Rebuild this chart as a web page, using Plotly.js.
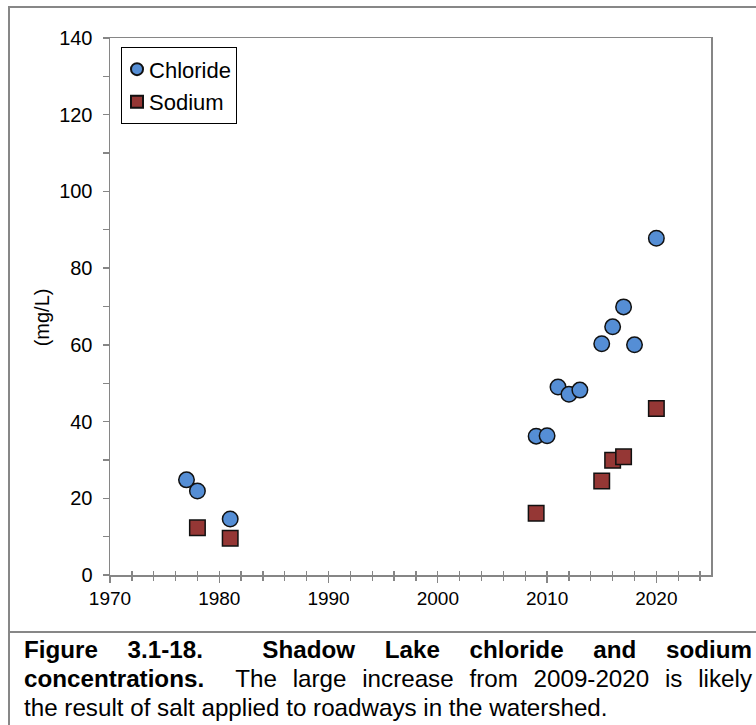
<!DOCTYPE html>
<html>
<head>
<meta charset="utf-8">
<script src="https://cdn.plot.ly/plotly-3.0.1.min.js"></script>
<style>
  html, body { margin:0; padding:0; background:#fff; }
  body { width:756px; height:725px; position:relative; overflow:hidden; font-family:"Liberation Sans", Arial, sans-serif; }
  #frame { position:absolute; left:8px; top:6px; width:760px; height:760px; border-left:2px solid #878787; border-top:2px solid #878787; }
  #sep { position:absolute; left:8px; top:631px; width:760px; height:0; border-top:2px solid #878787; }
  #chart { position:absolute; left:0; top:0; width:756px; height:632px; }
  #caption { position:absolute; left:24px; top:635px; width:728px; font-size:24.2px; line-height:29px; color:#000; }
  #caption div { white-space:nowrap; }
  #caption .j { text-align:justify; text-align-last:justify; white-space:normal; }
</style>
</head>
<body>
<div id="frame"></div>
<div id="chart"></div>
<div id="sep"></div>
<div id="caption">
  <div class="j"><b>Figure 3.1-18.&nbsp; Shadow Lake chloride and sodium</b></div>
  <div class="j"><b>concentrations.</b>&nbsp; The large increase from 2009-2020 is likely</div>
  <div>the result of salt applied to roadways in the watershed.</div>
</div>
<script>
const chlorideYears = [1977, 1978, 1981, 2009, 2010, 2011, 2012, 2013, 2015, 2016, 2017, 2018, 2020];
const chlorideValues = [24.8, 21.9, 14.6, 36.2, 36.3, 49.0, 47.1, 48.2, 60.3, 64.7, 69.9, 60.0, 87.8];
const sodiumYears = [1978, 1981, 2009, 2015, 2016, 2017, 2020];
const sodiumValues = [12.3, 9.6, 16.1, 24.5, 29.9, 30.8, 43.4];
const xTickValues = [1970, 1980, 1990, 2000, 2010, 2020];
const yTickValues = [0, 20, 40, 60, 80, 100, 120, 140];
const yTitle = '(mg/L)';

const axisColor = '#868686';
const fontFam = '"Liberation Sans", Arial, sans-serif';

const traces = [
  {
    x: chlorideYears, y: chlorideValues, name: 'Chloride', type: 'scatter', mode: 'markers',
    legendgroup: 'a',
    marker: { symbol: 'circle', size: 15.5, color: '#558ED5', line: { color: '#111', width: 1.5 } }
  },
  {
    x: sodiumYears, y: sodiumValues, name: 'Sodium', type: 'scatter', mode: 'markers',
    legendgroup: 'b',
    marker: { symbol: 'square', size: 15.5, color: '#953735', line: { color: '#111', width: 1.5 } }
  },
  {
    x: [], y: [], xaxis: 'x2', showlegend: false, hoverinfo: 'skip', type: 'scatter', mode: 'markers'
  }
];

const layout = {
  width: 756, height: 632,
  margin: { l: 110, r: 45, t: 38, b: 57, pad: 0 },
  paper_bgcolor: 'rgba(0,0,0,0)', plot_bgcolor: '#fff',
  font: { family: fontFam, size: 19, color: '#000' },
  showlegend: true,
  legend: {
    x: 0.018, y: 0.983, xanchor: 'left', yanchor: 'top',
    bgcolor: '#fff', bordercolor: '#000', borderwidth: 1.2,
    font: { family: fontFam, size: 22, color: '#000' },
    tracegroupgap: 1, itemsizing: 'constant'
  },
  xaxis: {
    range: [1970, 2025], tickvals: xTickValues, ticktext: xTickValues.map(String),
    showgrid: false, zeroline: false, showline: true, linecolor: axisColor, linewidth: 1.5,
    mirror: true, ticks: 'outside', ticklen: 6, tickwidth: 1.3, tickcolor: axisColor,
    minor: { dtick: 2, tick0: 1970, ticks: 'outside', ticklen: 4, tickwidth: 1.3, tickcolor: axisColor, showgrid: false },
    tickfont: { family: fontFam, size: 19, color: '#000' }
  },
  xaxis2: {
    overlaying: 'x', side: 'bottom', anchor: 'y', range: [1970, 2025],
    tickvals: xTickValues, showticklabels: false, showgrid: false, zeroline: false, showline: false,
    ticks: 'inside', ticklen: 4, tickwidth: 1.3, tickcolor: axisColor,
    minor: { dtick: 2, tick0: 1970, ticks: 'inside', ticklen: 4, tickwidth: 1.3, tickcolor: axisColor, showgrid: false }
  },
  yaxis: {
    range: [0, 140], tickvals: yTickValues, ticktext: yTickValues.map(String),
    showgrid: false, zeroline: false, showline: true, linecolor: axisColor, linewidth: 1.5,
    mirror: true, ticks: 'outside', ticklen: 6, tickwidth: 1.3, tickcolor: axisColor,
    ticklabelstandoff: 6,
    minor: { dtick: 10, tick0: 0, ticks: 'outside', ticklen: 6, tickwidth: 1.3, tickcolor: axisColor, showgrid: false },
    tickfont: { family: fontFam, size: 20, color: '#000' }
  },
  annotations: [
    {
      text: yTitle, xref: 'paper', yref: 'paper', x: -0.113, y: 0.48,
      xanchor: 'center', yanchor: 'middle', textangle: -90, showarrow: false,
      font: { family: fontFam, size: 20, color: '#000' }
    }
  ]
};

Plotly.newPlot('chart', traces, layout, { staticPlot: true, displayModeBar: false }).then(function (gd) {
  // tighten the gap between legend symbols and labels, as in the reference
  const textShift = 13, pointShift = 5;
  gd.querySelectorAll('.legend .legendtext').forEach(function (t) {
    t.setAttribute('x', String(parseFloat(t.getAttribute('x')) - textShift));
  });
  gd.querySelectorAll('.legend .legendpoints').forEach(function (p) {
    const tr = p.getAttribute('transform') || '';
    p.setAttribute('transform', tr + ' translate(' + (-pointShift) + ',0)');
  });
  const bg = gd.querySelector('.legend rect.bg');
  if (bg) bg.setAttribute('width', String(parseFloat(bg.getAttribute('width')) - textShift - 1));
});
</script>
</body>
</html>
